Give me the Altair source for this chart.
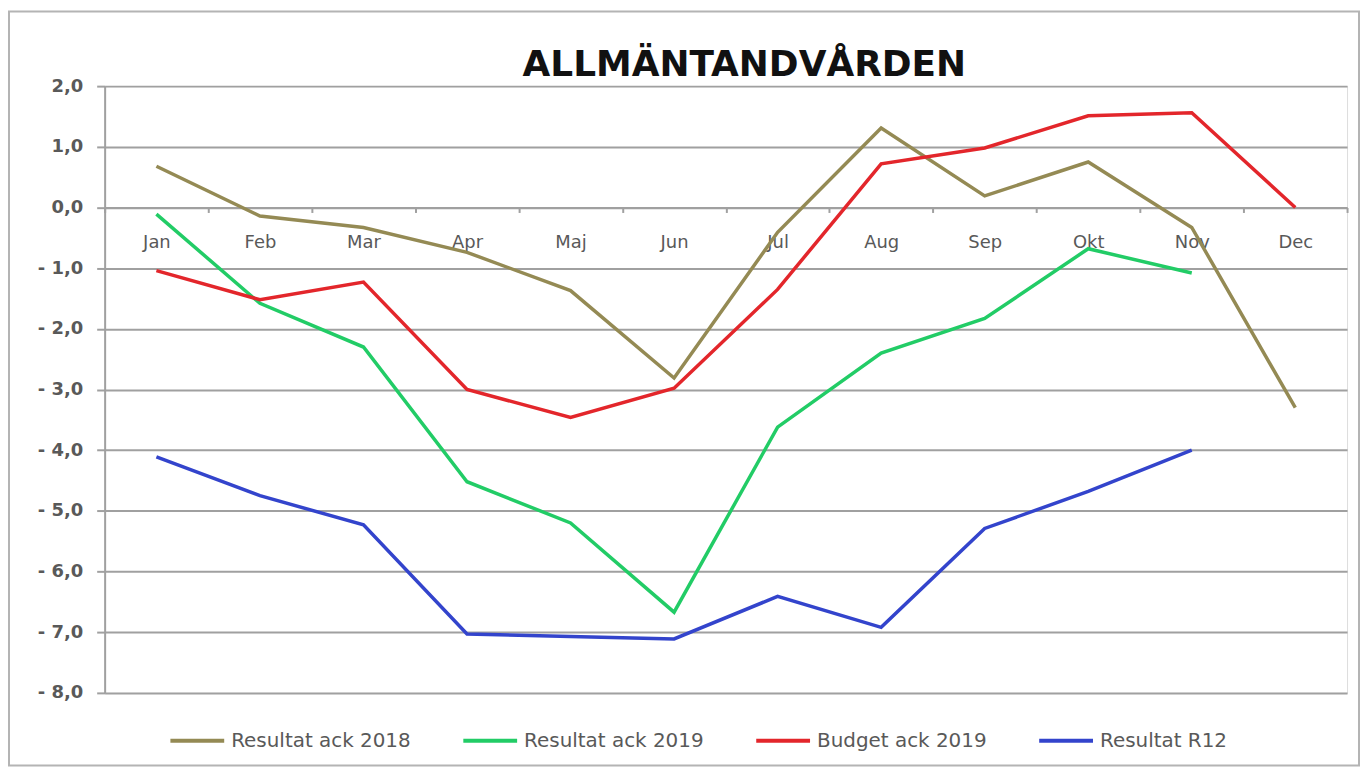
import altair as alt
import pandas as pd

months = ["Jan", "Feb", "Mar", "Apr", "Maj", "Jun", "Jul", "Aug", "Sep", "Okt", "Nov", "Dec"]
series_names = ["Resultat ack 2018", "Resultat ack 2019", "Budget ack 2019", "Resultat R12"]
series_colors = ["#948A54", "#22CC66", "#E3262B", "#3344CC"]

res_2018 = [0.68, -0.14, -0.33, -0.74, -1.37, -2.81, -0.41, 1.31, 0.19, 0.75, -0.33, -3.30]
res_2019 = [-0.11, -1.58, -2.30, -4.52, -5.20, -6.67, -3.62, -2.40, -1.83, -0.68, -1.08, None]
budget_2019 = [-1.04, -1.52, -1.23, -3.00, -3.46, -2.98, -1.35, 0.72, 0.98, 1.51, 1.56, 0.00]
res_r12 = [-4.11, -4.75, -5.23, -7.03, -7.07, -7.11, -6.41, -6.92, -5.29, -4.68, -4.00, None]

y_ticks = [2, 1, 0, -1, -2, -3, -4, -5, -6, -7, -8]
title_text = "ALLMÄNTANDVÅRDEN"

rows = []
for name, vals in zip(series_names, [res_2018, res_2019, budget_2019, res_r12]):
    for i, (m, v) in enumerate(zip(months, vals)):
        if v is not None:
            rows.append({"month": m, "value": v, "series": name, "order": i})
df = pd.DataFrame(rows)

W, H = 1247, 609
zero_offset = -(H - H * 2 / 10)

FONT = "DejaVu Sans"
GRAY = "#a0a0a0"
LABEL = "#595959"

lines = alt.Chart(df).mark_line(strokeWidth=3.5).encode(
    x=alt.X("month:N", sort=months, bandPosition=0.5,
            scale=alt.Scale(type="band", paddingInner=0, paddingOuter=0),
            axis=alt.Axis(title=None, orient="bottom", offset=zero_offset,
                          labelAngle=0, domainColor=GRAY, domainWidth=2,
                          tickColor=GRAY, tickWidth=2, tickSize=5, tickBand="extent",
                          labelPadding=21, labelFontSize=18, labelColor=LABEL,
                          labelFont=FONT, grid=False)),
    y=alt.Y("value:Q", scale=alt.Scale(domain=[-8, 2], nice=False, zero=False),
            axis=alt.Axis(title=None, values=y_ticks, domainColor=GRAY, domainWidth=2,
                          tickColor=GRAY, tickWidth=2, tickSize=8, gridColor=GRAY,
                          gridWidth=2, gridOpacity=1, labelPadding=14, labelFontSize=18,
                          labelColor=LABEL, labelFont=FONT, labelFontWeight="bold",
                          labelExpr="(datum.value < 0 ? '- ' : '') + replace(format(abs(datum.value), '.1f'), '.', ',')")),
    color=alt.Color("series:N", sort=series_names,
                    scale=alt.Scale(domain=series_names, range=series_colors),
                    legend=alt.Legend(title=None, orient="none", direction="horizontal",
                                      legendX=64, legendY=628, symbolType="stroke",
                                      symbolSize=2916, symbolStrokeWidth=4,
                                      labelFontSize=20, labelColor=LABEL, labelFont=FONT,
                                      labelLimit=400, columnPadding=44, labelOffset=5)),
    order="order:Q",
)

border = alt.Chart(alt.Data(values=[{}])).mark_rect(
    fillOpacity=0, stroke="#b4b4b4", strokeWidth=2
).encode(
    x=alt.value(-96), x2=alt.value(1259), y=alt.value(-75), y2=alt.value(682)
)

title = alt.Chart(alt.Data(values=[{"t": title_text}])).mark_text(
    font=FONT, fontSize=36, fontWeight="bold", color="#111111",
    align="center", baseline="alphabetic"
).encode(
    text="t:N", x=alt.value(642), y=alt.value(-10)
)

chart = alt.layer(border, lines, title).properties(
    width=W, height=H,
    autosize=alt.AutoSizeParams(type="none"),
    padding={"left": 97, "top": 77, "right": 15, "bottom": 79},
).configure_view(stroke=None).configure(background="white")

chart.save("out.html", embed_options={"renderer": "svg", "actions": False})
